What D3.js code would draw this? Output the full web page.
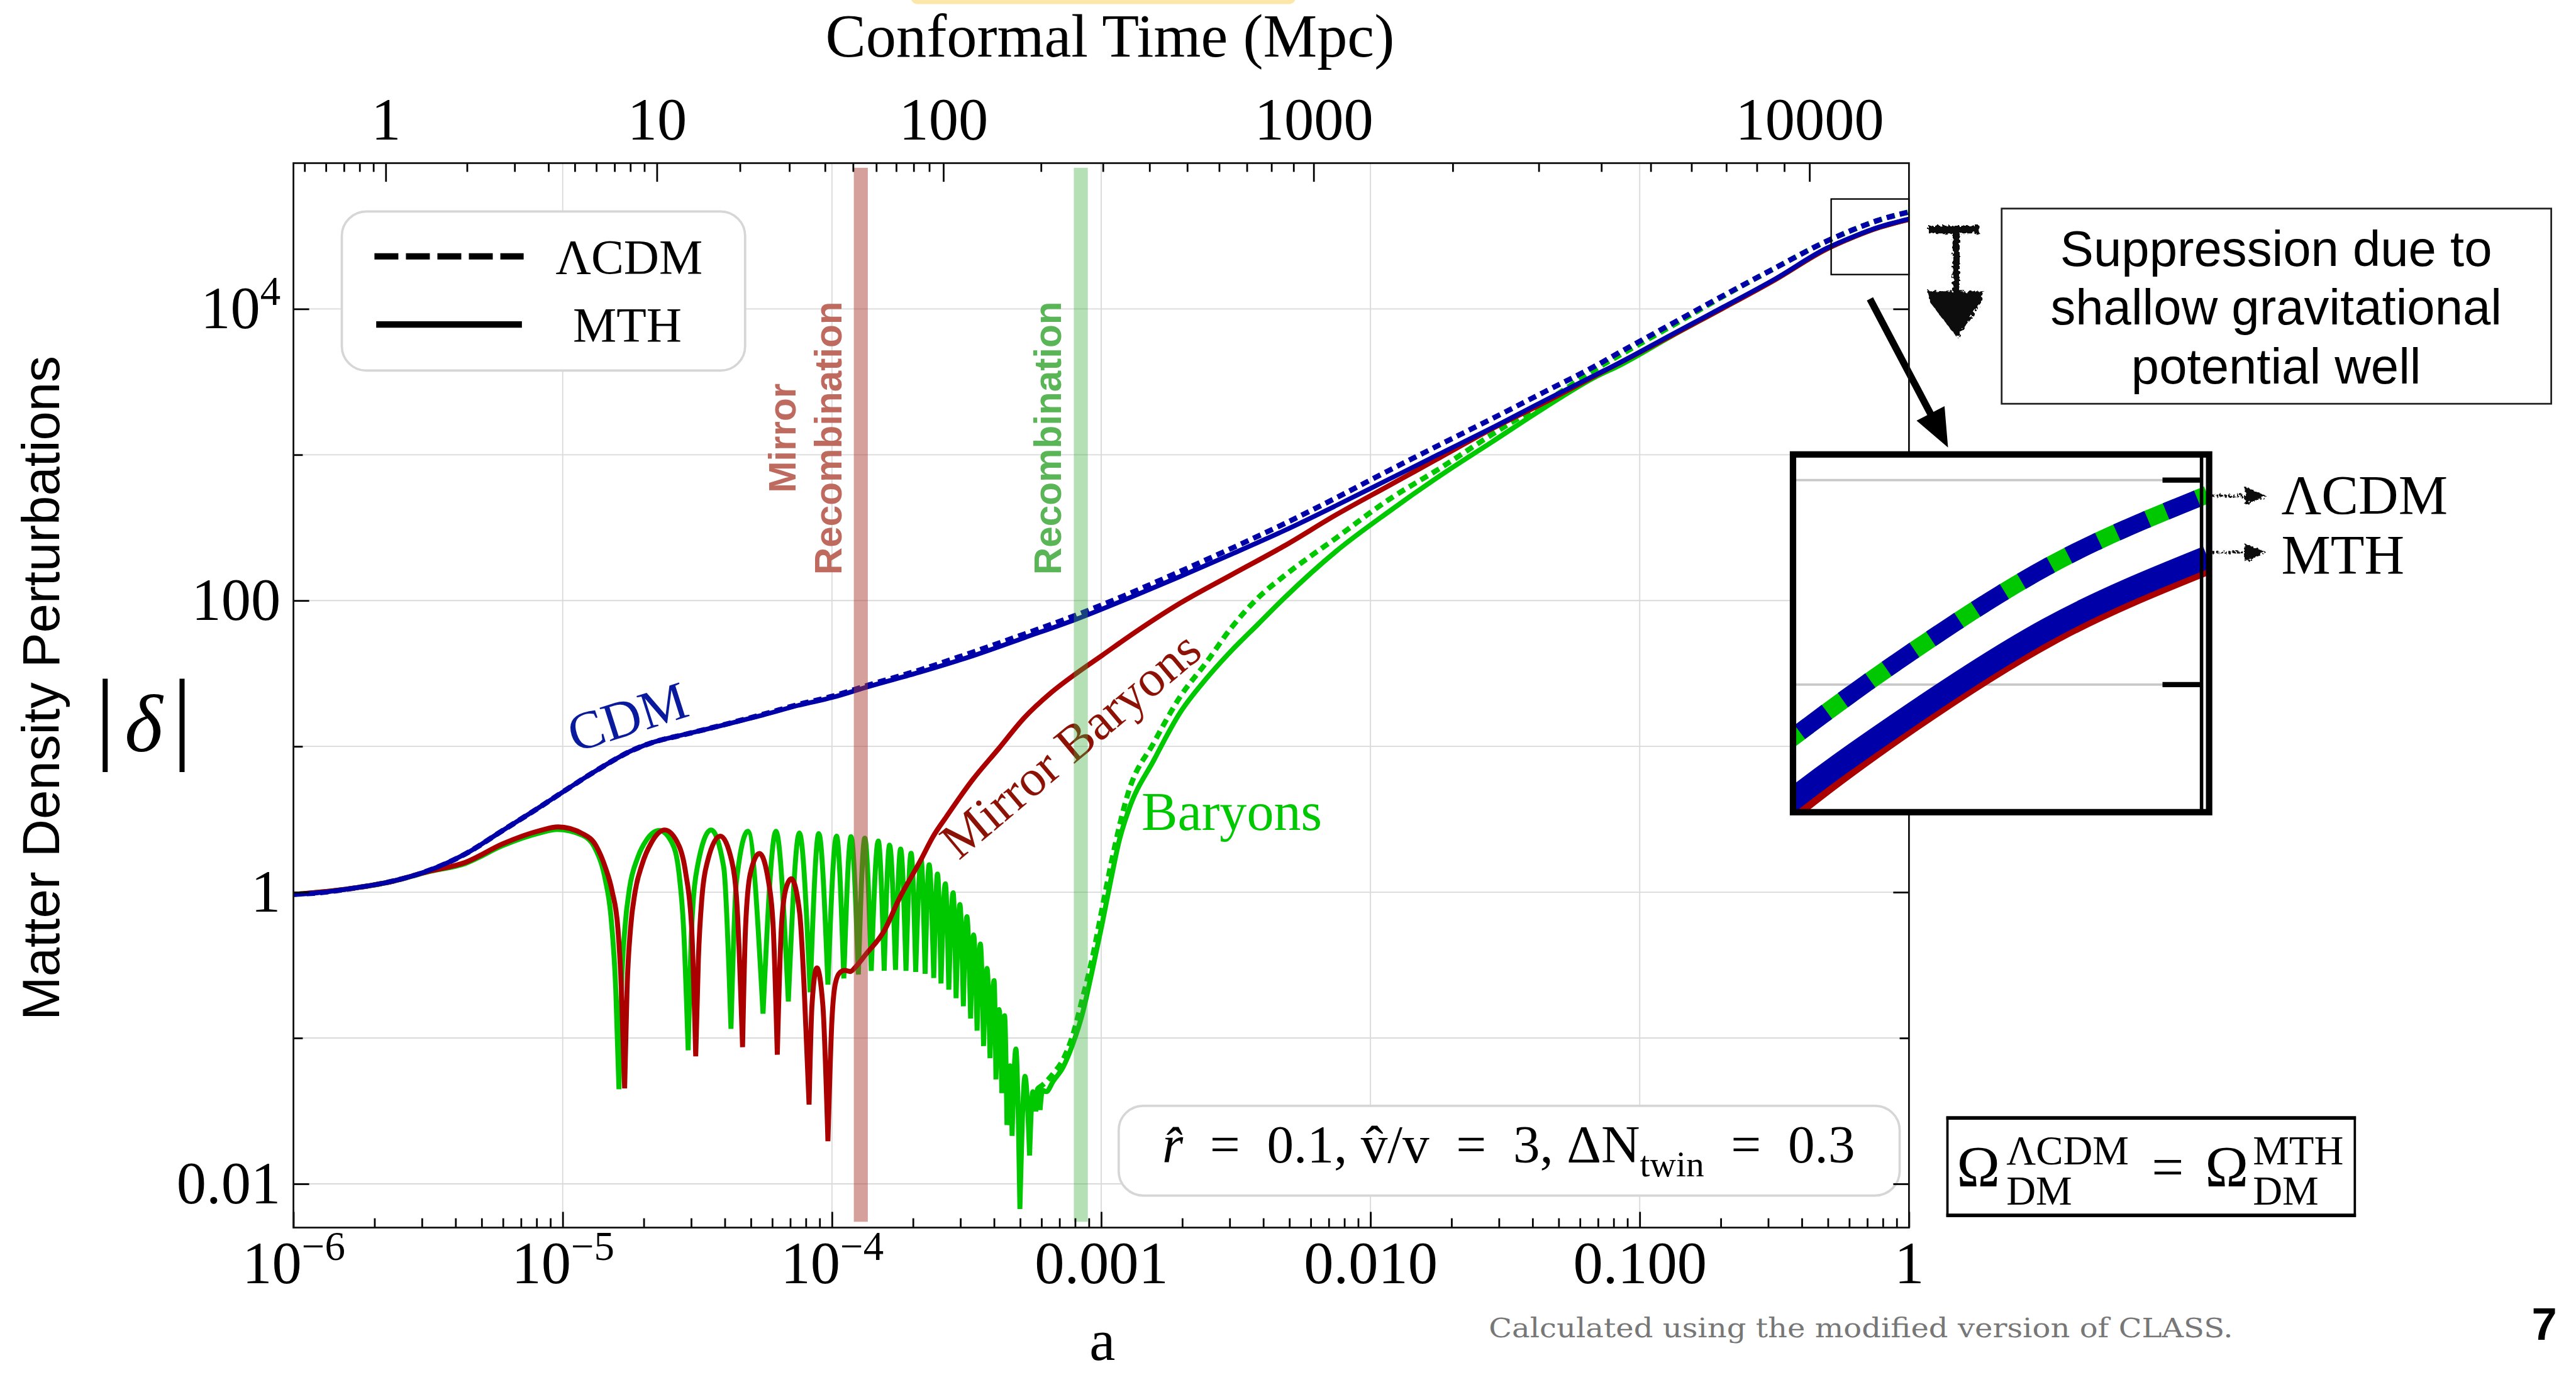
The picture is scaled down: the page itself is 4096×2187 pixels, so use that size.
<!DOCTYPE html>
<html><head><meta charset="utf-8">
<script src="https://cdn.jsdelivr.net/npm/d3@7"></script>
<style>html,body{margin:0;padding:0;background:#fff;overflow:hidden}</style>
</head><body>
<svg id="chart" width="4096" height="2187" viewBox="0 0 4419 2360"></svg>
<script>
// ---------------- DATA (log10 a, log10 |delta|) ----------------
const cdmMTH = [[-6.000,-0.015],[-5.914,-0.005],[-5.776,0.028],[-5.638,0.073],[-5.500,0.147],[-5.362,0.262],[-5.224,0.422],[-5.086,0.583],[-5.000,0.687],[-4.878,0.831],[-4.740,0.974],[-4.671,1.024],[-4.533,1.088],[-4.395,1.150],[-4.257,1.215],[-4.119,1.284],[-4.000,1.335],[-3.865,1.410],[-3.672,1.510],[-3.479,1.620],[-3.286,1.745],[-3.093,1.872],[-2.900,2.015],[-2.707,2.165],[-2.514,2.320],[-2.320,2.480],[-2.127,2.652],[-1.934,2.830],[-1.741,3.008],[-1.548,3.185],[-1.355,3.370],[-1.162,3.550],[-1.077,3.629],[-0.884,3.822],[-0.691,4.012],[-0.498,4.205],[-0.304,4.418],[-0.208,4.495],[-0.111,4.562],[0.000,4.617]];
const cdmLCDM = [[-6.000,-0.015],[-5.914,-0.005],[-5.776,0.028],[-5.638,0.073],[-5.500,0.147],[-5.362,0.262],[-5.224,0.422],[-5.086,0.583],[-5.000,0.687],[-4.878,0.831],[-4.740,0.974],[-4.671,1.024],[-4.533,1.088],[-4.395,1.152],[-4.257,1.219],[-4.119,1.290],[-4.000,1.343],[-3.865,1.420],[-3.672,1.525],[-3.479,1.645],[-3.286,1.770],[-3.093,1.900],[-2.900,2.045],[-2.707,2.200],[-2.514,2.360],[-2.320,2.527],[-2.127,2.705],[-1.934,2.890],[-1.741,3.070],[-1.548,3.248],[-1.355,3.430],[-1.162,3.612],[-1.077,3.700],[-0.884,3.895],[-0.691,4.090],[-0.498,4.280],[-0.304,4.466],[-0.208,4.543],[-0.111,4.610],[0.000,4.665]];
const mirrorMTH = [[-6.000,-0.015],[-5.776,0.028],[-5.638,0.072],[-5.500,0.142],[-5.362,0.204],[-5.224,0.331],[-5.086,0.422],[-5.017,0.448],[-4.927,0.402],[-4.876,0.318],[-4.842,0.172],[-4.816,0.004],[-4.795,-0.247],[-4.782,-0.665],[-4.770,-1.345],[-4.761,-0.665],[-4.748,-0.247],[-4.731,0.004],[-4.705,0.192],[-4.671,0.339],[-4.621,0.427],[-4.568,0.318],[-4.543,0.130],[-4.521,-0.247],[-4.506,-1.126],[-4.496,-0.456],[-4.483,-0.038],[-4.462,0.213],[-4.415,0.385],[-4.372,0.213],[-4.351,-0.142],[-4.332,-1.063],[-4.321,-0.247],[-4.303,0.130],[-4.269,0.266],[-4.235,0.067],[-4.218,-0.247],[-4.203,-1.115],[-4.188,-0.247],[-4.171,0.025],[-4.151,0.092],[-4.120,-0.142],[-4.103,-0.665],[-4.085,-1.456],[-4.074,-0.770],[-4.056,-0.519],[-4.034,-0.770],[-4.015,-1.707],[-4.000,-0.874],[-3.987,-0.623],[-3.970,-0.550],[-3.953,-0.536],[-3.932,-0.544],[-3.910,-0.508],[-3.876,-0.430],[-3.807,-0.268],[-3.749,-0.040],[-3.672,0.214],[-3.625,0.380],[-3.575,0.518],[-3.479,0.768],[-3.382,0.982],[-3.286,1.196],[-3.189,1.364],[-3.093,1.500],[-2.996,1.625],[-2.900,1.750],[-2.707,1.982],[-2.514,2.179],[-2.320,2.375],[-2.127,2.589],[-1.934,2.786],[-1.741,2.982],[-1.548,3.179],[-1.355,3.357],[-1.162,3.546],[-0.884,3.815],[-0.691,4.005],[-0.498,4.200],[-0.304,4.413],[-0.208,4.492],[-0.111,4.559],[0.000,4.614]];
const baryonMTH = [[-6.000,-0.015],[-5.776,0.028],[-5.638,0.072],[-5.500,0.140],[-5.362,0.197],[-5.224,0.319],[-5.086,0.406],[-5.021,0.430],[-4.927,0.391],[-4.876,0.287],[-4.842,0.088],[-4.821,-0.163],[-4.803,-0.665],[-4.791,-1.351],[-4.782,-0.665],[-4.769,-0.247],[-4.752,0.025],[-4.722,0.234],[-4.688,0.360],[-4.641,0.423],[-4.594,0.339],[-4.568,0.130],[-4.551,-0.247],[-4.534,-1.084],[-4.521,-0.247],[-4.500,0.172],[-4.449,0.427],[-4.402,0.172],[-4.375,-0.937],[-4.355,0.067],[-4.312,0.418],[-4.256,-0.833],[-4.208,0.418],[-4.162,-0.749],[-4.121,0.406],[-4.081,-0.686],[-4.049,0.402],[-4.015,-0.634],[-3.983,0.385],[-3.956,-0.592],[-3.929,0.381],[-3.902,-0.565],[-3.878,0.370],[-3.854,-0.540],[-3.828,0.351],[-3.806,-0.539],[-3.786,0.323],[-3.764,-0.533],[-3.745,0.296],[-3.725,-0.539],[-3.706,0.267],[-3.689,-0.547],[-3.669,0.225],[-3.654,-0.560],[-3.639,0.188],[-3.622,-0.589],[-3.608,0.125],[-3.595,-0.626],[-3.579,0.058],[-3.566,-0.668],[-3.550,-0.004],[-3.539,-0.727],[-3.525,-0.084],[-3.512,-0.783],[-3.499,-0.167],[-3.485,-0.867],[-3.474,-0.292],[-3.461,-0.950],[-3.449,-0.355],[-3.437,-1.055],[-3.424,-0.522],[-3.413,-1.138],[-3.398,-0.606],[-3.391,-1.284],[-3.379,-0.804],[-3.369,-1.378],[-3.359,-0.846],[-3.350,-1.597],[-3.338,-1.190],[-3.331,-1.671],[-3.317,-1.075],[-3.302,-2.172],[-3.283,-1.263],[-3.266,-1.806],[-3.254,-1.368],[-3.243,-1.504],[-3.236,-1.347],[-3.227,-1.493],[-3.218,-1.357],[-3.204,-1.368],[-3.178,-1.295],[-3.142,-1.201],[-3.106,-1.044],[-3.070,-0.835],[-3.034,-0.543],[-2.998,-0.230],[-2.962,0.104],[-2.933,0.355],[-2.900,0.554],[-2.803,0.911],[-2.707,1.232],[-2.610,1.464],[-2.514,1.661],[-2.417,1.839],[-2.320,2.018],[-2.127,2.339],[-1.934,2.607],[-1.741,2.857],[-1.548,3.089],[-1.355,3.321],[-1.162,3.536],[-1.077,3.611],[-0.884,3.812],[-0.691,4.005],[-0.498,4.200],[-0.304,4.413],[-0.208,4.492],[-0.111,4.559],[0.000,4.614]];
const baryonLCDM = [[-3.236,-1.347],[-3.214,-1.316],[-3.178,-1.243],[-3.142,-1.149],[-3.106,-0.982],[-3.070,-0.731],[-3.034,-0.460],[-2.998,-0.126],[-2.962,0.208],[-2.900,0.680],[-2.803,1.030],[-2.707,1.340],[-2.610,1.575],[-2.514,1.820],[-2.417,2.020],[-2.320,2.170],[-2.127,2.430],[-1.934,2.690],[-1.741,2.908],[-1.548,3.140],[-1.355,3.357],[-1.162,3.589],[-1.077,3.680],[-0.884,3.880],[-0.691,4.085],[-0.498,4.280],[-0.304,4.466],[-0.208,4.543],[-0.111,4.610],[0.000,4.665]];

// axis ticks and labels
const aMajor = [1e-6,1e-5,1e-4,1e-3,1e-2,1e-1,1];
const aMajorLabels = [["10","\u22126"],["10","\u22125"],["10","\u22124"],["0.001"],["0.010"],["0.100"],["1"]];
const deltaMajor = [0.01,1,100,1e4];
const deltaMajorLabels = [["0.01"],["1"],["100"],["10","4"]];
const deltaMinor = [0.1,10,1000];
const tauMajor = [1,10,100,1000,10000];
const tauMajorLabels = ["1","10","100","1000","10000"];
// cosmology used for the conformal-time axis (with dN_twin = 0.3 extra radiation)
const cosmoH = 0.677, cosmoOmegaM = 0.31, cosmoOmegaR = 9.47e-5;
// event bands (scale factor)
const bandA = [1.28e-4, 8.4e-4];
const bandLabels = [["Mirror","Recombination"],["Recombination"]];
// zoomed window (data units)
const zoomA = [0.514, 1.0];
const zoomDeltaLog = [4.236, 4.754];
const insetDeltaLog = [4.419, 4.698];

// ---------------- SETUP ----------------
const svg = d3.select('#chart');
const M = {left:503, right:3275, top:280, bottom:2107};
const x = d3.scaleLog().domain([1e-6,1]).range([M.left,M.right]);
const y = d3.scaleLog().domain([Math.pow(10,-2.3),1e5]).range([M.bottom,M.top]);
const SERIF = "'Liberation Serif','Times New Roman',serif";
const SANS = "'Liberation Sans',Arial,Helvetica,sans-serif";
const BLUE = '#0000a8', GREEN = '#00c800', RED = '#aa0000';

const defs = svg.append('defs');
defs.append('clipPath').attr('id','plotclip').append('rect')
  .attr('x',M.left).attr('y',M.top).attr('width',M.right-M.left).attr('height',M.bottom-M.top);
const rough = defs.append('filter').attr('id','rough').attr('x','-20%').attr('y','-20%').attr('width','140%').attr('height','140%');
rough.append('feTurbulence').attr('type','fractalNoise').attr('baseFrequency',0.18).attr('numOctaves',2).attr('result','n');
rough.append('feDisplacementMap').attr('in','SourceGraphic').attr('in2','n').attr('scale',10);

svg.append('rect').attr('width',4419).attr('height',2360).attr('fill','#fff');
svg.append('rect').attr('x',1562).attr('y',-20).attr('width',661).attr('height',27).attr('rx',12).attr('fill','#fde6aa');

// grid
const gridX = d3.range(-5,0).map(e=>Math.pow(10,e));
const gridY = d3.range(-2,5).map(e=>Math.pow(10,e));
const grid = svg.append('g').attr('stroke','#dadada').attr('stroke-width',2);
grid.selectAll('.gx').data(gridX).join('line').attr('x1',d=>x(d)).attr('x2',d=>x(d)).attr('y1',M.top).attr('y2',M.bottom);
grid.selectAll('.gy').data(gridY).join('line').attr('y1',d=>y(d)).attr('y2',d=>y(d)).attr('x1',M.left).attr('x2',M.right);

// path builder: sharp cusps at deep local minima, smooth elsewhere
function cuspPath(data, xs, ys){
  const pts = data.map(d=>[xs(Math.pow(10,d[0])), ys(Math.pow(10,d[1]))]);
  const cuts=[0];
  for(let i=1;i<data.length-1;i++){
    if(data[i][1] < data[i-1][1]-0.1 && data[i][1] < data[i+1][1]-0.1) cuts.push(i);
  }
  cuts.push(data.length-1);
  const line = d3.line().curve(d3.curveMonotoneX);
  let p='';
  for(let k=0;k<cuts.length-1;k++) p += line(pts.slice(cuts[k],cuts[k+1]+1));
  return p;
}

// curves
const curves = svg.append('g').attr('clip-path','url(#plotclip)').attr('fill','none').attr('stroke-linejoin','round');
curves.append('path').attr('d',cuspPath(baryonLCDM,x,y)).attr('stroke',GREEN).attr('stroke-width',9).attr('stroke-dasharray','14,9');
curves.append('path').attr('d',cuspPath(cdmLCDM,x,y)).attr('stroke',BLUE).attr('stroke-width',9).attr('stroke-dasharray','14,9');
curves.append('path').attr('d',cuspPath(baryonMTH,x,y)).attr('stroke',GREEN).attr('stroke-width',8.5);
curves.append('path').attr('d',cuspPath(mirrorMTH,x,y)).attr('stroke',RED).attr('stroke-width',8.5);
curves.append('path').attr('d',cuspPath(cdmMTH,x,y)).attr('stroke',BLUE).attr('stroke-width',8);

// curve labels
svg.append('text').attr('transform','translate(1076,1230) rotate(-17.7)').attr('text-anchor','middle').attr('dominant-baseline','central')
  .attr('font-family',SERIF).attr('font-size',92).attr('fill','#0a1a9c').text('CDM');
svg.append('text').attr('transform','translate(1836,1278) rotate(-40)').attr('text-anchor','middle').attr('dominant-baseline','central')
  .attr('font-family',SERIF).attr('font-size',88).attr('fill','#8c1206').text('Mirror Baryons');
svg.append('text').attr('x',1958).attr('y',1424).attr('font-family',SERIF).attr('font-size',93).attr('fill',GREEN).text('Baryons');

// recombination bands (semi-transparent, on top of curves)
const bandFill = ['rgb(170,60,50)','rgb(60,170,60)'];
const bandOp = [0.49,0.38];
svg.append('g').selectAll('rect').data(bandA).join('rect')
  .attr('x',d=>x(d)-12).attr('width',24).attr('y',288).attr('height',2097-288)
  .attr('fill',(d,i)=>bandFill[i]).attr('opacity',(d,i)=>bandOp[i]);
const bandTextColor = ['#bf6a5f','#59b556'];
const bandTextX = [[1365,1443],[1820]];
bandLabels.forEach((lines,i)=>{
  lines.forEach((s,j)=>{
    svg.append('text').attr('transform',`translate(${bandTextX[i][j]},752) rotate(-90)`).attr('text-anchor','middle')
      .attr('font-family',SANS).attr('font-weight','bold').attr('font-size',65).attr('fill',bandTextColor[i]).text(s);
  });
});

// legend
const lg = svg.append('g');
lg.append('rect').attr('x',586).attr('y',363).attr('width',692).attr('height',273).attr('rx',42).attr('fill','#fff').attr('stroke','#d6d6d6').attr('stroke-width',4);
lg.append('line').attr('x1',642).attr('x2',898).attr('y1',440).attr('y2',440).attr('stroke','#000').attr('stroke-width',11).attr('stroke-dasharray','41,13');
lg.append('line').attr('x1',645).attr('x2',895).attr('y1',557).attr('y2',557).attr('stroke','#000').attr('stroke-width',11);
lg.append('text').attr('x',1079).attr('y',469).attr('text-anchor','middle').attr('font-family',SERIF).attr('font-size',84).text('\u039BCDM');
lg.append('text').attr('x',1076).attr('y',586).attr('text-anchor','middle').attr('font-family',SERIF).attr('font-size',84).text('MTH');

// parameter box
const pb = svg.append('g');
pb.append('rect').attr('x',1919).attr('y',1898).attr('width',1340).attr('height',154).attr('rx',42).attr('fill','#fff').attr('stroke','#d6d6d6').attr('stroke-width',4);
const pt = pb.append('text').attr('x',2588).attr('y',1995).attr('text-anchor','middle').attr('font-family',SERIF).attr('font-size',92);
const ES = '\u2002';
pt.append('tspan').attr('font-style','italic').text('r\u0302');
pt.append('tspan').text(ES+'='+ES+'0.1, v\u0302/v'+ES+'='+ES+'3, \u0394N');
pt.append('tspan').attr('font-size',62).attr('dy',24).text('twin');
pt.append('tspan').attr('dy',-24).text(ES+'='+ES+'0.3');

// Omega box
const ob = svg.append('g').attr('font-family',SERIF);
ob.append('rect').attr('x',3341).attr('y',1918).attr('width',699).attr('height',169).attr('fill','#fff').attr('stroke','#000').attr('stroke-width',4);
ob.append('line').attr('x1',3339).attr('x2',4042).attr('y1',1919).attr('y2',1919).attr('stroke','#000').attr('stroke-width',6);
ob.append('line').attr('x1',3339).attr('x2',4042).attr('y1',2086).attr('y2',2086).attr('stroke','#000').attr('stroke-width',6);
ob.append('text').attr('x',3357).attr('y',2036).attr('font-size',100).text('\u03A9');
ob.append('text').attr('x',3442).attr('y',1998).attr('font-size',70).text('\u039BCDM');
ob.append('text').attr('x',3442).attr('y',2068).attr('font-size',70).text('DM');
ob.append('text').attr('x',3719).attr('y',2036).attr('text-anchor','middle').attr('font-size',98).text('=');
ob.append('text').attr('x',3783).attr('y',2036).attr('font-size',100).text('\u03A9');
ob.append('text').attr('x',3865).attr('y',1998).attr('font-size',70).text('MTH');
ob.append('text').attr('x',3865).attr('y',2068).attr('font-size',70).text('DM');

// suppression box
const sb = svg.append('g');
sb.append('rect').attr('x',3434).attr('y',358).attr('width',943).attr('height',335).attr('fill','#fff').attr('stroke','#222').attr('stroke-width',3);
['Suppression due to','shallow gravitational','potential well'].forEach((s,i)=>{
  sb.append('text').attr('x',3905).attr('y',456+i*101).attr('text-anchor','middle').attr('font-family',SANS).attr('font-size',86).text(s);
});
// hand-drawn suppression arrow
const ha = svg.append('g').attr('filter','url(#rough)');
ha.append('line').attr('x1',3308).attr('x2',3396).attr('y1',394).attr('y2',394).attr('stroke','#111').attr('stroke-width',13);
ha.append('line').attr('x1',3356).attr('x2',3356).attr('y1',396).attr('y2',505).attr('stroke','#111').attr('stroke-width',12);
ha.append('polygon').attr('points','3306,500 3404,500 3398,520 3358,580 3312,520').attr('fill','#111');

// small zoom window on main plot
svg.append('rect').attr('x',x(zoomA[0])).attr('y',y(Math.pow(10,zoomDeltaLog[1])))
  .attr('width',x(zoomA[1])-x(zoomA[0])).attr('height',y(Math.pow(10,zoomDeltaLog[0]))-y(Math.pow(10,zoomDeltaLog[1])))
  .attr('fill','none').attr('stroke','#000').attr('stroke-width',2.5);
// big arrow to inset
svg.append('line').attr('x1',3208).attr('y1',513).attr('x2',3314).attr('y2',714).attr('stroke','#000').attr('stroke-width',12);
svg.append('polygon').attr('points','3288,722 3336,697 3342,768').attr('fill','#000');

// ---------------- AXES ----------------
function styleAxis(g){ g.select('.domain').remove(); g.selectAll('.tick line').attr('stroke','#000').attr('stroke-width',3); g.attr('font-family',SERIF).attr('font-size',102).attr('fill','#000'); g.selectAll('text').attr('fill','#000'); }
function supLabels(g, ticks, labels){
  g.selectAll('.tick text').each(function(d){
    const i = ticks.findIndex(t=>Math.abs(Math.log10(t)-Math.log10(d))<1e-6);
    const lab = labels[i]; const t = d3.select(this); t.text(null);
    t.append('tspan').text(lab[0]);
    if(lab[1]) t.append('tspan').attr('dy',-40).attr('font-size',70).text(lab[1]);
  });
}
const aMinor = []; for(let e=-6;e<0;e++) for(let m=2;m<=9;m++) aMinor.push(m*Math.pow(10,e));
const gb = svg.append('g').attr('transform',`translate(0,${M.bottom})`).call(d3.axisBottom(x).tickValues(aMajor).tickSize(-27).tickPadding(23).tickFormat(()=>'x'));
styleAxis(gb); supLabels(gb, aMajor, aMajorLabels);
const gbm = svg.append('g').attr('transform',`translate(0,${M.bottom})`).call(d3.axisBottom(x).tickValues(aMinor).tickSize(-16).tickFormat(()=>''));
styleAxis(gbm);
const gl = svg.append('g').attr('transform',`translate(${M.left},0)`).call(d3.axisLeft(y).tickValues(deltaMajor).tickSize(-27).tickPadding(22).tickFormat(()=>'x'));
styleAxis(gl); supLabels(gl, deltaMajor, deltaMajorLabels);
const glm = svg.append('g').attr('transform',`translate(${M.left},0)`).call(d3.axisLeft(y).tickValues(deltaMinor).tickSize(-16).tickFormat(()=>''));
styleAxis(glm);
const gr = svg.append('g').attr('transform',`translate(${M.right},0)`).call(d3.axisRight(y).tickValues(deltaMajor).tickSize(-27).tickFormat(()=>''));
styleAxis(gr);
const grm = svg.append('g').attr('transform',`translate(${M.right},0)`).call(d3.axisRight(y).tickValues(deltaMinor).tickSize(-16).tickFormat(()=>''));
styleAxis(grm);

// top: conformal time computed from the cosmology
const H0 = cosmoH*100/299792.458;
const OL = 1-cosmoOmegaM-cosmoOmegaR;
const Efun = a=>Math.sqrt(cosmoOmegaR/Math.pow(a,4)+cosmoOmegaM/Math.pow(a,3)+OL);
const tabLA=[], tabLT=[];
(function(){
  const n=40000, l0=Math.log(1e-9), l1=Math.log(1.05), dl=(l1-l0)/n;
  let a0=Math.exp(l0);
  let tau = a0/(H0*Math.sqrt(cosmoOmegaR));
  let prev = 1/(a0*H0*Efun(a0));
  for(let i=0;i<=n;i++){
    const a=Math.exp(l0+i*dl); const f=1/(a*H0*Efun(a));
    if(i>0) tau += 0.5*(f+prev)*dl; prev=f;
    tabLA.push(Math.log10(a)); tabLT.push(Math.log10(tau));
  }
})();
function interp(xsArr, ysArr, v){
  let lo=0, hi=xsArr.length-1;
  while(hi-lo>1){ const mid=(lo+hi)>>1; if(xsArr[mid]<v) lo=mid; else hi=mid; }
  const f=(v-xsArr[lo])/(xsArr[hi]-xsArr[lo]);
  return ysArr[lo]+f*(ysArr[hi]-ysArr[lo]);
}
const aOfTau = t=>Math.pow(10, interp(tabLT, tabLA, Math.log10(t)));
const tauOfA = a=>Math.pow(10, interp(tabLA, tabLT, Math.log10(a)));
const tauMin = tauOfA(1e-6), tauMax = tauOfA(1);
const tauScale = t=>x(aOfTau(t));
tauScale.copy = ()=>tauScale; tauScale.domain = ()=>[tauMin,tauMax]; tauScale.range = ()=>x.range();
const tauMinor=[]; for(let e=-1;e<=4;e++) for(let m=2;m<=9;m++){ const v=m*Math.pow(10,e); if(v>tauMin && v<tauMax) tauMinor.push(v); }
const gt = svg.append('g').attr('transform',`translate(0,${M.top})`).call(d3.axisTop(tauScale).tickValues(tauMajor).tickSize(-32).tickPadding(40).tickFormat((d,i)=>tauMajorLabels[i]));
styleAxis(gt);
const gtm = svg.append('g').attr('transform',`translate(0,${M.top})`).call(d3.axisTop(tauScale).tickValues(tauMinor).tickSize(-15).tickFormat(()=>''));
styleAxis(gtm);

// frame
svg.append('rect').attr('x',M.left).attr('y',M.top).attr('width',M.right-M.left).attr('height',M.bottom-M.top).attr('fill','none').attr('stroke','#111').attr('stroke-width',3);

// ---------------- INSET (drawn over the frame) ----------------
const IN = {left:3076, right:3790, top:780, bottom:1394};
const xi = d3.scaleLog().domain(zoomA).range([3076,3787]);
const yi = d3.scaleLog().domain(insetDeltaLog.map(v=>Math.pow(10,v))).range([1399,775]);
defs.append('clipPath').attr('id','insetclip').append('rect').attr('x',IN.left+5).attr('y',IN.top+5).attr('width',IN.right-IN.left-2).attr('height',IN.bottom-IN.top-10);
const ig = svg.append('g');
ig.append('rect').attr('x',IN.left).attr('y',IN.top).attr('width',IN.right-IN.left).attr('height',IN.bottom-IN.top).attr('fill','#fff');
ig.append('g').selectAll('line').data([824,1175]).join('line').attr('x1',IN.left).attr('x2',3774).attr('y1',d=>d).attr('y2',d=>d).attr('stroke','#c8c8c8').attr('stroke-width',4);
const ic = ig.append('g').attr('clip-path','url(#insetclip)').attr('fill','none');
ic.append('path').attr('d',cuspPath(baryonLCDM,xi,yi)).attr('stroke',GREEN).attr('stroke-width',30).attr('stroke-dasharray','58,34');
ic.append('path').attr('d',cuspPath(cdmLCDM,xi,yi)).attr('stroke',BLUE).attr('stroke-width',30).attr('stroke-dasharray','58,34').attr('stroke-dashoffset',-22);
ic.append('path').attr('d',cuspPath(baryonMTH,xi,yi)).attr('stroke',GREEN).attr('stroke-width',36);
ic.append('path').attr('d',cuspPath(mirrorMTH,xi,yi)).attr('stroke',RED).attr('stroke-width',47);
ic.append('path').attr('d',cuspPath(cdmMTH,xi,yi)).attr('stroke',BLUE).attr('stroke-width',39);
ig.append('g').selectAll('line').data([824,1175]).join('line').attr('x1',3710).attr('x2',3776).attr('y1',d=>d).attr('y2',d=>d).attr('stroke','#000').attr('stroke-width',9);
ig.append('rect').attr('x',IN.left).attr('y',IN.top).attr('width',IN.right-IN.left).attr('height',IN.bottom-IN.top).attr('fill','none').attr('stroke','#000').attr('stroke-width',11);
ig.append('line').attr('x1',3777).attr('x2',3777).attr('y1',IN.top).attr('y2',IN.bottom).attr('stroke','#000').attr('stroke-width',6);
[[851,'\u039BCDM',882],[948,'MTH',984]].forEach(([yy,lab,bl])=>{
  const g = svg.append('g').attr('filter','url(#rough)');
  g.append('line').attr('x1',3795).attr('x2',3856).attr('y1',yy).attr('y2',yy).attr('stroke','#111').attr('stroke-width',5).attr('stroke-dasharray','4,3');
  g.append('polygon').attr('points',`3851,${yy-15} 3888,${yy} 3851,${yy+15}`).attr('fill','#111');
  svg.append('text').attr('x',3914).attr('y',bl).attr('font-family',SERIF).attr('font-size',95).text(lab);
});

// titles
svg.append('text').attr('x',1904).attr('y',97).attr('text-anchor','middle').attr('font-family',SERIF).attr('font-size',104).text('Conformal Time (Mpc)');
svg.append('text').attr('x',1891).attr('y',2334).attr('text-anchor','middle').attr('font-family',SERIF).attr('font-size',100).text('a');
svg.append('text').attr('transform','translate(101,1181) rotate(-90)').attr('text-anchor','middle').attr('font-family',SANS).attr('font-size',90).text('Matter Density Perturbations');
svg.append('text').attr('x',180).attr('y',1287).attr('text-anchor','middle').attr('font-family',SERIF).attr('font-size',175).text('|');
svg.append('text').attr('x',246).attr('y',1290).attr('text-anchor','middle').attr('font-family',SERIF).attr('font-style','italic').attr('font-size',140).text('\u03B4');
svg.append('text').attr('x',312).attr('y',1287).attr('text-anchor','middle').attr('font-family',SERIF).attr('font-size',175).text('|');

// footer
svg.append('text').attr('x',2554).attr('y',2295).attr('font-family',"'DejaVu Serif',serif").attr('font-size',46).attr('fill','#777')
  .attr('textLength',1277).attr('lengthAdjust','spacingAndGlyphs').text('Calculated using the modified version of CLASS.');
svg.append('text').attr('x',4365).attr('y',2300).attr('text-anchor','middle').attr('font-family',SANS).attr('font-weight','bold').attr('font-size',78).text('7');
</script>
</body></html>
